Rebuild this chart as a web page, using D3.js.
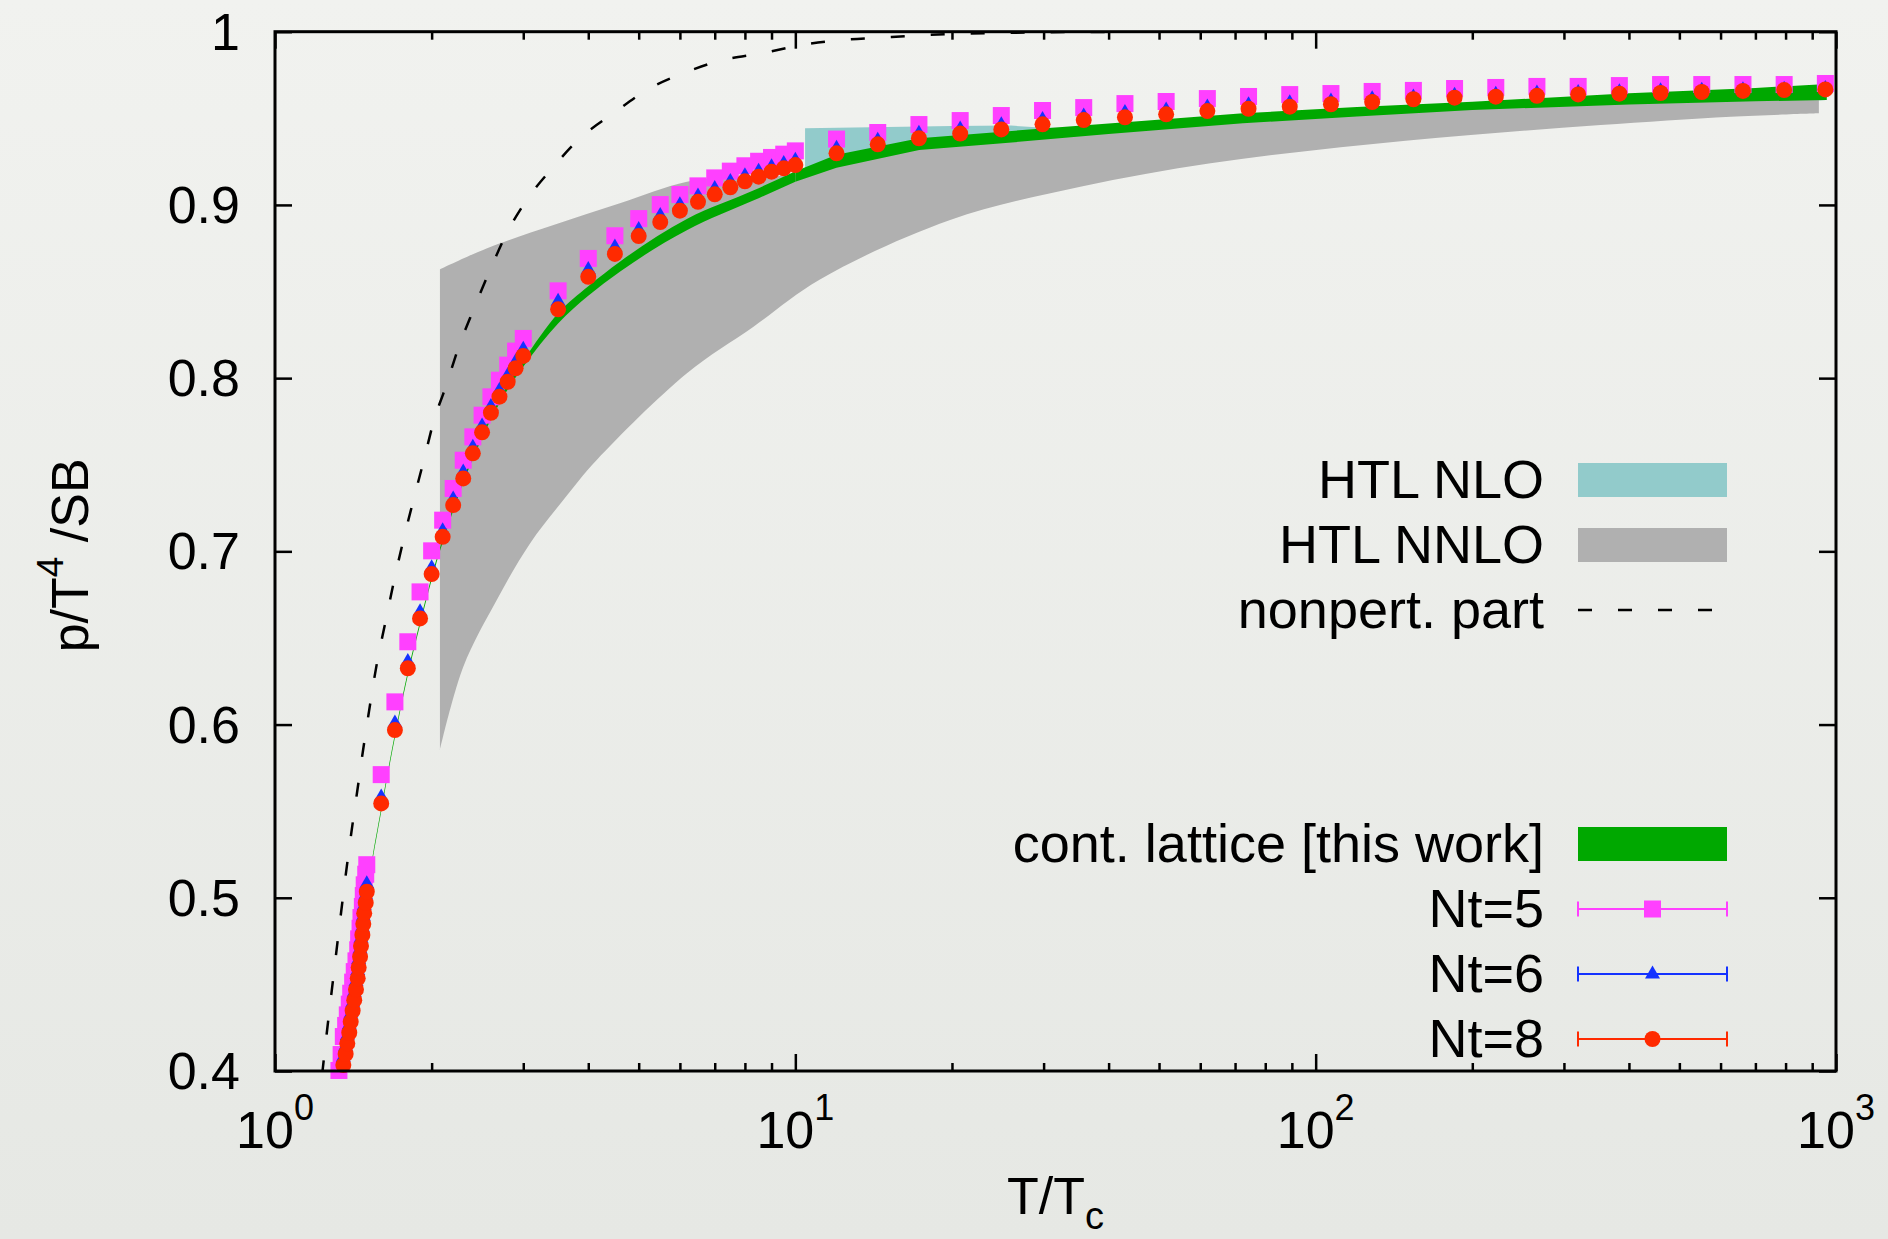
<!DOCTYPE html>
<html>
<head>
<meta charset="utf-8">
<script src="https://cdn.jsdelivr.net/npm/d3@7"></script>
<style>
  html, body { margin: 0; padding: 0; background: #eeefec; }
  svg { display: block; }
  text { font-family: "Liberation Sans", Arial, Helvetica, sans-serif; fill: #000; }
</style>
</head>
<body>
<svg id="chart" width="1888" height="1239"></svg>
<script>
// ---------------- data ----------------
// Axis ticks
const xMajor = [1, 10, 100, 1000];
const xMajorExp = ["0", "1", "2", "3"];
const xMinor = [2, 3, 4, 5, 6, 7, 8, 9, 20, 30, 40, 50, 60, 70, 80, 90, 200, 300, 400, 500, 600, 700, 800, 900];
const yTicks = [0.4, 0.5, 0.6, 0.7, 0.8, 0.9, 1.0];
const yTickLabels = ["0.4", "0.5", "0.6", "0.7", "0.8", "0.9", "1"];

// Lattice temperatures T/Tc shared by the three Nt series
const tLattice = [1.327, 1.340, 1.353, 1.367, 1.377, 1.389, 1.398, 1.410, 1.420, 1.431, 1.442, 1.448, 1.457, 1.463, 1.472, 1.478, 1.484, 1.494, 1.501,
  1.6, 1.7, 1.8, 1.9, 2.0, 2.1, 2.2, 2.3, 2.4, 2.5, 2.6, 2.7, 2.8, 2.9, 3.0,
  3.5, 4.0, 4.5, 5.0, 5.5, 6.0, 6.5, 7.0, 7.5, 8.0, 8.5, 9.0, 9.5, 10.0,
  12.0, 14.4, 17.28, 20.74, 24.88, 29.86, 35.83, 43.0, 51.6, 61.92, 74.3, 89.16, 107.0, 128.4, 154.1, 184.9, 221.9, 266.2, 319.5, 383.4, 460.1, 552.1, 662.5, 795.0, 954.0];

// p/T^4 / SB for Nt = 5
const nt5 = [0.4003, 0.4095, 0.4199, 0.4263, 0.4324, 0.4386, 0.4449, 0.4513, 0.4574, 0.4636, 0.4700, 0.4763, 0.4824, 0.4886, 0.4950, 0.5013, 0.5075, 0.5136, 0.5191,
  0.5711, 0.6131, 0.6478, 0.6766, 0.7003, 0.7180, 0.7363, 0.7526, 0.7661, 0.7786, 0.7892, 0.7988, 0.8075, 0.8156, 0.8229,
  0.8504, 0.8691, 0.8822, 0.8921, 0.9002, 0.9060, 0.9110, 0.9156, 0.9195, 0.9226, 0.9252, 0.9274, 0.9293, 0.9312,
  0.9380, 0.9418, 0.9464, 0.9487, 0.9516, 0.9545, 0.9562, 0.9585, 0.9597, 0.9614, 0.9626, 0.9637, 0.9643, 0.9655, 0.9661, 0.9672, 0.9678, 0.9684, 0.9684, 0.9689, 0.9695, 0.9695, 0.9695, 0.9695, 0.9701];

// p/T^4 / SB for Nt = 6
const nt6 = [0.3907, 0.3997, 0.4091, 0.4155, 0.4216, 0.4278, 0.4341, 0.4405, 0.4466, 0.4528, 0.4592, 0.4655, 0.4716, 0.4778, 0.4842, 0.4905, 0.4967, 0.5028, 0.5092,
  0.5593, 0.6020, 0.6376, 0.6663, 0.6917, 0.7131, 0.7314, 0.7470, 0.7613, 0.7735, 0.7848, 0.7941, 0.8027, 0.8106, 0.8178,
  0.8455, 0.8638, 0.8768, 0.8869, 0.8950, 0.9013, 0.9063, 0.9107, 0.9147, 0.9180, 0.9206, 0.9232, 0.9251, 0.9269,
  0.9338, 0.9385, 0.9425, 0.9450, 0.9475, 0.9504, 0.9525, 0.9545, 0.9559, 0.9577, 0.9590, 0.9601, 0.9611, 0.9624, 0.9635, 0.9645, 0.9651, 0.9657, 0.9661, 0.9665, 0.9670, 0.9673, 0.9676, 0.9679, 0.9684];

// p/T^4 / SB for Nt = 8
const nt8 = [0.3850, 0.3940, 0.4034, 0.4098, 0.4159, 0.4221, 0.4284, 0.4348, 0.4409, 0.4471, 0.4535, 0.4598, 0.4659, 0.4721, 0.4785, 0.4848, 0.4910, 0.4971, 0.5035,
  0.5545, 0.5968, 0.6325, 0.6613, 0.6869, 0.7084, 0.7267, 0.7421, 0.7566, 0.7687, 0.7800, 0.7893, 0.7979, 0.8057, 0.8128,
  0.8397, 0.8585, 0.8717, 0.8820, 0.8901, 0.8967, 0.9018, 0.9061, 0.9102, 0.9136, 0.9163, 0.9192, 0.9211, 0.9230,
  0.9298, 0.9350, 0.9385, 0.9412, 0.9436, 0.9465, 0.9490, 0.9506, 0.9523, 0.9542, 0.9555, 0.9567, 0.9581, 0.9594, 0.9610, 0.9619, 0.9625, 0.9630, 0.9638, 0.9642, 0.9646, 0.9652, 0.9658, 0.9663, 0.9667];

// Continuum-extrapolated lattice band
const contT  = [1.33, 1.40, 1.45, 1.50, 1.60, 1.70, 1.80, 1.90, 2.00, 2.20, 2.50, 2.75, 3.00, 3.50, 4.00, 4.60, 6.20, 8.30, 10.0, 12.0, 17.3, 25.0, 40.0, 72.5, 120, 200, 400, 700, 960];
const contLo = [0.3860, 0.4255, 0.4585, 0.4980, 0.5498, 0.5925, 0.6285, 0.6575, 0.6835, 0.7235, 0.7655, 0.7895, 0.8065, 0.8316, 0.8475, 0.8614, 0.8855, 0.9025, 0.9134, 0.9215, 0.9317, 0.9356, 0.9410, 0.9471, 0.9510, 0.9548, 0.9580, 0.9598, 0.9606];
const contHi = [0.3880, 0.4275, 0.4605, 0.5000, 0.5518, 0.5945, 0.6305, 0.6595, 0.6855, 0.7258, 0.7680, 0.7925, 0.8100, 0.8374, 0.8530, 0.8672, 0.8920, 0.9083, 0.9195, 0.9290, 0.9385, 0.9423, 0.9470, 0.9529, 0.9565, 0.9596, 0.9645, 0.9675, 0.9698];

// HTL NLO band
const nloT  = [10.44, 15, 20, 26, 30, 40, 100, 200, 400, 954];
const nloLo = [0.918, 0.925, 0.930, 0.935, 0.937, 0.940, 0.945, 0.950, 0.954, 0.9606];
const nloHi = [0.9442, 0.9450, 0.9455, 0.9458, 0.9445, 0.9445, 0.9530, 0.9575, 0.9610, 0.9640];

// HTL NNLO band: upper and lower edges
const nnloUpT = [2.075, 2.55, 3.43, 4.6, 6.19, 8.0, 10, 12, 15, 20, 25, 35, 45, 63, 80, 112, 150, 200, 280, 350, 450, 630, 800, 927];
const nnloUpV = [0.8628, 0.8749, 0.8884, 0.9009, 0.9134, 0.9165, 0.9175, 0.9250, 0.9310, 0.9360, 0.9390, 0.9425, 0.9455, 0.9490, 0.9505, 0.9530, 0.9550, 0.9570, 0.9590, 0.9602, 0.9612, 0.9620, 0.9615, 0.9610];
const nnloLoT = [2.075, 2.301, 2.668, 3.091, 3.582, 4.152, 6.19, 8.31, 11.15, 19.84, 35.3, 62.8, 111.7, 198.6, 353, 628, 927];
const nnloLoV = [0.5853, 0.6334, 0.6719, 0.7046, 0.7296, 0.7527, 0.8028, 0.8297, 0.8570, 0.8913, 0.9105, 0.9240, 0.9333, 0.9404, 0.9461, 0.9509, 0.9529];

// Non-perturbative part (dashed)
const npT = [1.232, 1.257, 1.295, 1.334, 1.374, 1.410, 1.446, 1.468, 1.512, 1.569, 1.627, 1.688, 1.765, 1.845, 1.928, 2.03, 2.107, 2.268, 2.405, 2.59, 2.788, 3.045, 3.428, 3.857, 4.47, 5.18, 6.09, 7.27, 8.6, 10.27, 12.27, 14.66, 17.66, 25, 40, 100, 1000];
const npV = [0.398, 0.4215, 0.4545, 0.4870, 0.5180, 0.5430, 0.5660, 0.5800, 0.6055, 0.6350, 0.6580, 0.6810, 0.7065, 0.7295, 0.7515, 0.7777, 0.7912, 0.8201, 0.8393, 0.8624, 0.8836, 0.9028, 0.9220, 0.9385, 0.9529, 0.9663, 0.9760, 0.9837, 0.9875, 0.9923, 0.9952, 0.9966, 0.9980, 0.9993, 0.9999, 1.0, 1.0];

// ---------------- layout ----------------
const svg = d3.select("#chart");
const W = 1888, H = 1239;
const plot = { left: 275, right: 1836, top: 31.7, bottom: 1071 };
const colors = {
  nlo: "#92cbcb", nnlo: "#b0b0b0", cont: "#00a800",
  nt5: "#ff40ff", nt6: "#1432ff", nt8: "#ff2a00"
};

const x = d3.scaleLog().domain([1, 1000]).range([plot.left, plot.right]);
const y = d3.scaleLinear().domain([0.4, 1]).range([plot.bottom, plot.top]);

// background
const defs = svg.append("defs");
const bg = defs.append("linearGradient").attr("id", "bg").attr("x1", 0).attr("y1", 0).attr("x2", 0).attr("y2", 1);
bg.append("stop").attr("offset", "0%").attr("stop-color", "#f1f2ef");
bg.append("stop").attr("offset", "100%").attr("stop-color", "#e6e8e4");
svg.append("rect").attr("width", W).attr("height", H).attr("fill", "url(#bg)");

defs.append("clipPath").attr("id", "plotClip")
  .append("rect")
  .attr("x", plot.left).attr("y", plot.top)
  .attr("width", plot.right - plot.left).attr("height", plot.bottom - plot.top);

const bands = svg.append("g").attr("clip-path", "url(#plotClip)");

function bandRows(ts, lo, hi) { return ts.map((t, i) => ({ t, lo: lo[i], hi: hi[i] })); }

const areaLinear = d3.area().x(d => x(d.t)).y0(d => y(d.lo)).y1(d => y(d.hi));
const areaSmooth = d3.area().curve(d3.curveMonotoneX).x(d => x(d.t)).y0(d => y(d.lo)).y1(d => y(d.hi));

// HTL NLO
bands.append("path").datum(bandRows(nloT, nloLo, nloHi)).attr("d", areaLinear).attr("fill", colors.nlo);

// HTL NNLO: closed outline from the upper edge (left to right) and the lower edge (right to left)
const edge = d3.line().curve(d3.curveCatmullRom.alpha(0.5)).x(d => x(d.t)).y(d => y(d.v));
const upPts = nnloUpT.map((t, i) => ({ t, v: nnloUpV[i] }));
const loPts = nnloLoT.map((t, i) => ({ t, v: nnloLoV[i] })).reverse();
const nnloPath = edge(upPts) + "L" + edge(loPts).slice(1) + "Z";
bands.append("path").attr("d", nnloPath).attr("fill", colors.nnlo);

// continuum band: smooth below T = 10 Tc, straight segments above
const cont = bandRows(contT, contLo, contHi);
bands.append("path").datum(cont.filter(d => d.t <= 10)).attr("d", areaSmooth).attr("fill", colors.cont);
bands.append("path").datum(cont.filter(d => d.t >= 10)).attr("d", areaLinear).attr("fill", colors.cont);

const npLine = d3.line().curve(d3.curveMonotoneX).x(d => x(d.t)).y(d => y(d.v));
bands.append("path")
  .datum(npT.map((t, i) => ({ t, v: npV[i] })))
  .attr("d", npLine)
  .attr("fill", "none").attr("stroke", "#000").attr("stroke-width", 2.5)
  .attr("stroke-dasharray", "14 26");

// ---------------- lattice points ----------------
const inRange = d => d.v >= 0.4 && d.v <= 1;
const pts = arr => tLattice.map((t, i) => ({ t, v: arr[i] })).filter(inRange);

const SQ = 17, TRI_W = 15, TRI_H = 13, CR = 8;
const triPath = `M0,${-TRI_H / 2}L${TRI_W / 2},${TRI_H / 2}L${-TRI_W / 2},${TRI_H / 2}Z`;

svg.append("g").selectAll("rect").data(pts(nt5)).join("rect")
  .attr("x", d => x(d.t) - SQ / 2).attr("y", d => y(d.v) - SQ / 2)
  .attr("width", SQ).attr("height", SQ).attr("fill", colors.nt5);

svg.append("g").selectAll("path").data(pts(nt6)).join("path")
  .attr("transform", d => `translate(${x(d.t)},${y(d.v)})`)
  .attr("d", triPath).attr("fill", colors.nt6);

svg.append("g").selectAll("circle").data(pts(nt8)).join("circle")
  .attr("cx", d => x(d.t)).attr("cy", d => y(d.v)).attr("r", CR).attr("fill", colors.nt8);

// ---------------- axes ----------------
function tickLayer(axis, transform) {
  const g = svg.append("g").attr("transform", transform).call(axis);
  g.select(".domain").remove();
  g.selectAll(".tick text").remove();
  g.selectAll(".tick line").attr("stroke", "#000").attr("stroke-width", 2.5);
  return g;
}
tickLayer(d3.axisBottom(x).tickValues(xMajor).tickSize(-17), `translate(0,${plot.bottom})`);
tickLayer(d3.axisBottom(x).tickValues(xMinor).tickSize(-8), `translate(0,${plot.bottom})`);
tickLayer(d3.axisTop(x).tickValues(xMajor).tickSize(-17), `translate(0,${plot.top})`);
tickLayer(d3.axisTop(x).tickValues(xMinor).tickSize(-8), `translate(0,${plot.top})`);
tickLayer(d3.axisLeft(y).tickValues(yTicks).tickSize(-17), `translate(${plot.left},0)`);
tickLayer(d3.axisRight(y).tickValues(yTicks).tickSize(-17), `translate(${plot.right},0)`);

svg.append("rect")
  .attr("x", plot.left).attr("y", plot.top)
  .attr("width", plot.right - plot.left).attr("height", plot.bottom - plot.top)
  .attr("fill", "none").attr("stroke", "#000").attr("stroke-width", 3);

// y tick labels
svg.append("g").selectAll("text").data(yTicks).join("text")
  .attr("x", 240).attr("y", d => y(d) + 18)
  .attr("text-anchor", "end").attr("font-size", 52)
  .text((d, i) => yTickLabels[i]);

// x tick labels: 10^n
const xl = svg.append("g").selectAll("text").data(xMajor).join("text")
  .attr("x", d => x(d)).attr("y", 1148)
  .attr("text-anchor", "middle").attr("font-size", 52);
xl.append("tspan").text("10");
xl.append("tspan").attr("font-size", 36).attr("dy", -28).text((d, i) => xMajorExp[i]);

// axis titles
const xt = svg.append("text").attr("x", (plot.left + plot.right) / 2).attr("y", 1214)
  .attr("text-anchor", "middle").attr("font-size", 52);
xt.append("tspan").text("T/T");
xt.append("tspan").attr("font-size", 38).attr("dy", 15).text("c");

const yt = svg.append("text")
  .attr("transform", `translate(88,${(plot.top + plot.bottom) / 2 + 4}) rotate(-90)`)
  .attr("text-anchor", "middle").attr("font-size", 52);
yt.append("tspan").text("p/T");
yt.append("tspan").attr("font-size", 37).attr("dy", -25).text("4");
yt.append("tspan").attr("dy", 25).text(" /SB");

// ---------------- legends ----------------
const legX0 = 1578, legX1 = 1727, legText = 1544;
const lg = svg.append("g");

function legendLabel(yBase, label) {
  lg.append("text").attr("x", legText).attr("y", yBase).attr("text-anchor", "end")
    .attr("font-size", 54).text(label);
}
function legendBox(yBase, label, fill) {
  legendLabel(yBase, label);
  lg.append("rect").attr("x", legX0).attr("y", yBase - 35).attr("width", legX1 - legX0).attr("height", 34).attr("fill", fill);
}
legendBox(498, "HTL NLO", colors.nlo);
legendBox(563, "HTL NNLO", colors.nnlo);
legendLabel(628, "nonpert. part");
lg.append("line").attr("x1", legX0).attr("x2", legX1).attr("y1", 610).attr("y2", 610)
  .attr("stroke", "#000").attr("stroke-width", 2.5).attr("stroke-dasharray", "14 26");

legendBox(862, "cont. lattice [this work]", colors.cont);

function legendErr(yBase, label, color, marker) {
  legendLabel(yBase, label);
  const cy = yBase - 18, cx = (legX0 + legX1) / 2;
  lg.append("line").attr("x1", legX0).attr("x2", legX1).attr("y1", cy).attr("y2", cy).attr("stroke", color).attr("stroke-width", 2);
  [legX0, legX1].forEach(xx => lg.append("line").attr("x1", xx).attr("x2", xx).attr("y1", cy - 7.5).attr("y2", cy + 7.5).attr("stroke", color).attr("stroke-width", 2));
  if (marker === "square") lg.append("rect").attr("x", cx - SQ / 2).attr("y", cy - SQ / 2).attr("width", SQ).attr("height", SQ).attr("fill", color);
  if (marker === "triangle") lg.append("path").attr("transform", `translate(${cx},${cy - 2})`).attr("d", triPath).attr("fill", color);
  if (marker === "circle") lg.append("circle").attr("cx", cx).attr("cy", cy).attr("r", CR).attr("fill", color);
}
legendErr(927, "Nt=5", colors.nt5, "square");
legendErr(992, "Nt=6", colors.nt6, "triangle");
legendErr(1057, "Nt=8", colors.nt8, "circle");
</script>
</body>
</html>
